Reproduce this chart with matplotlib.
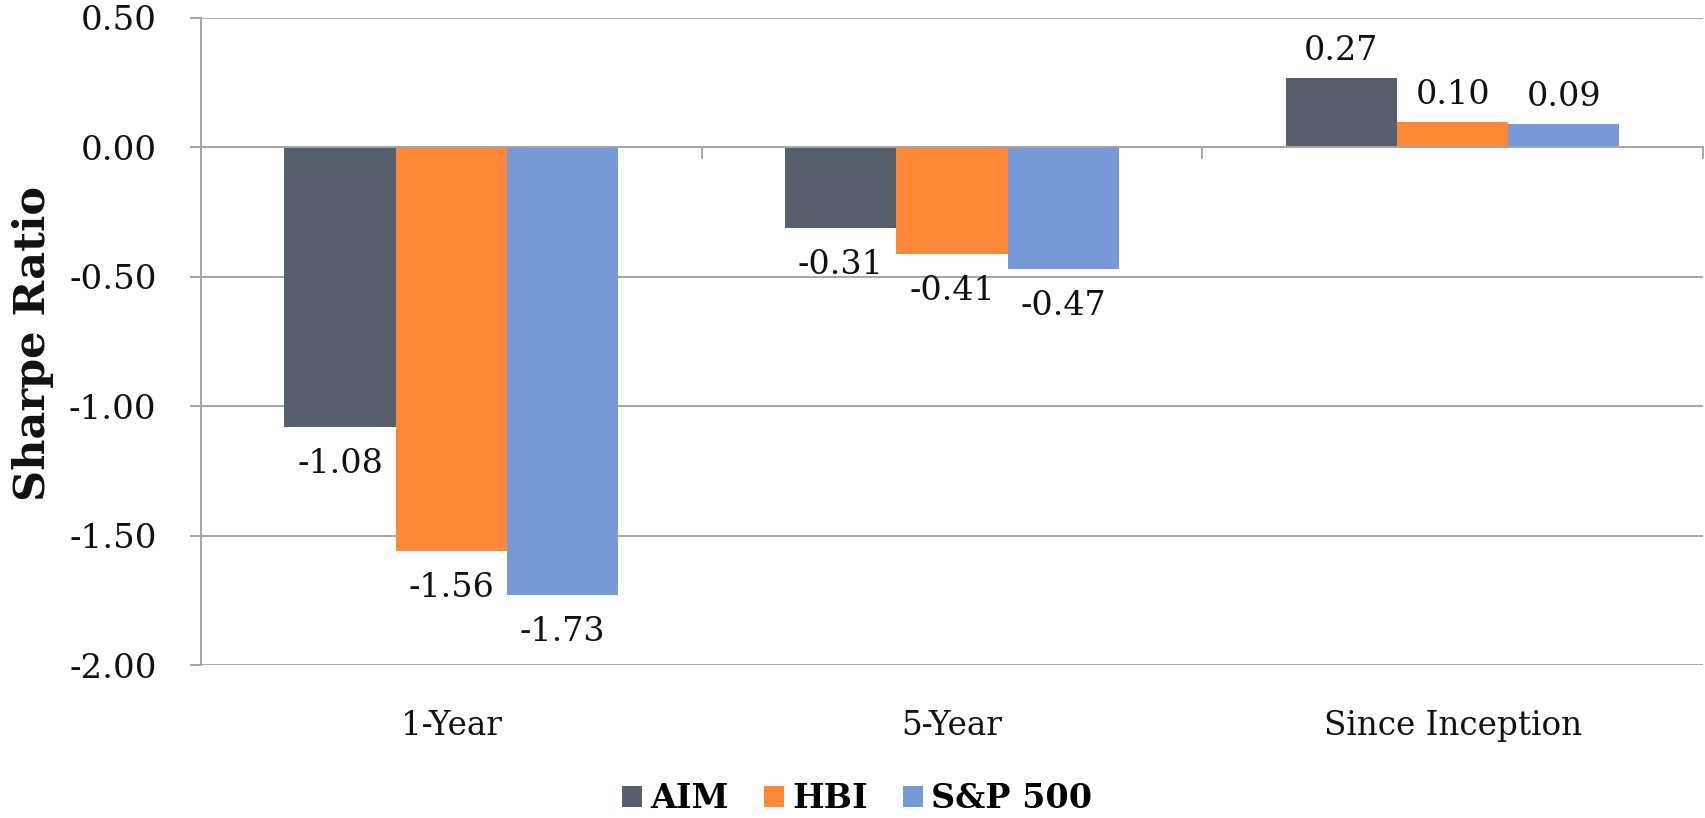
import matplotlib
matplotlib.use("Agg")
import matplotlib.pyplot as plt
from matplotlib.patches import Patch

plt.rcParams["font.family"] = "DejaVu Serif"
plt.rcParams["axes.unicode_minus"] = False

# Sharpe ratios by period and portfolio
periods = ["1-Year", "5-Year", "Since Inception"]
series_names = ["AIM", "HBI", "S&P 500"]
aim = [-1.08, -0.31, 0.27]
hbi = [-1.56, -0.41, 0.10]
sp500 = [-1.73, -0.47, 0.09]
y_ticks = [0.50, 0.00, -0.50, -1.00, -1.50, -2.00]

colors = ["#585F6C", "#FF8838", "#7699D8"]
grid_gray = "#A6A6A6"

fig = plt.figure(figsize=(17.06, 8.18), dpi=100)
ax = fig.add_axes([0.1178, 0.187, 0.8804, 0.791])

bar_w = 1 / 4.5
x = list(range(len(periods)))
for k, (vals, col) in enumerate(zip([aim, hbi, sp500], colors)):
    xs = [xi + (k - 1) * bar_w for xi in x]
    ax.bar(xs, vals, width=bar_w, color=col, linewidth=0, zorder=2)
    for xi, v in zip(xs, vals):
        off = 27 if v >= 0 else -37
        ax.annotate(f"{v:.2f}", xy=(xi, v), xytext=(0, off),
                    textcoords="offset pixels", ha="center", va="center",
                    fontsize=24, color="#111111")

ax.set_xlim(-0.5, 2.5)
ax.set_ylim(-2.0, 0.5)
ax.set_yticks(y_ticks)
ax.set_yticklabels([f"{t:.2f}" for t in y_ticks])
ax.yaxis.grid(True, color=grid_gray, linewidth=1.4, zorder=0)
ax.set_axisbelow(True)

for s in ["top", "right"]:
    ax.spines[s].set_visible(False)
ax.spines["bottom"].set_position(("data", 0))
ax.spines["bottom"].set_color(grid_gray)
ax.spines["bottom"].set_linewidth(1.4)
ax.spines["bottom"].set_zorder(3)
ax.spines["left"].set_color(grid_gray)
ax.spines["left"].set_linewidth(1.4)

ax.set_xticks([-0.5, 0.5, 1.5, 2.5])
ax.set_xticklabels([])
ax.tick_params(axis="x", direction="out", length=8.5, width=1.4, color=grid_gray)
ax.tick_params(axis="y", direction="out", length=8, width=1.4, color=grid_gray,
               pad=24, labelsize=24.5, labelcolor="#111111")

for xi, name in zip(x, periods):
    ax.annotate(name, xy=(xi, -2.0), xytext=(0, -45), textcoords="offset pixels",
                ha="center", va="top", fontsize=23.5, color="#111111")

fig.text(33 / 1706, 1 - 344 / 818, "Sharpe Ratio", rotation=90, ha="center",
         va="center", fontsize=31, fontweight="bold", color="#111111")

handles = [Patch(facecolor=c, edgecolor="none") for c in colors]
fig.legend(handles, series_names, loc="center", bbox_to_anchor=(857 / 1706, 0.024),
           ncol=3, frameon=False, handlelength=0.6, handleheight=0.6,
           handletextpad=0.25, columnspacing=1.05,
           prop={"size": 24, "weight": "bold"})

fig.savefig("out.png", dpi=100)
